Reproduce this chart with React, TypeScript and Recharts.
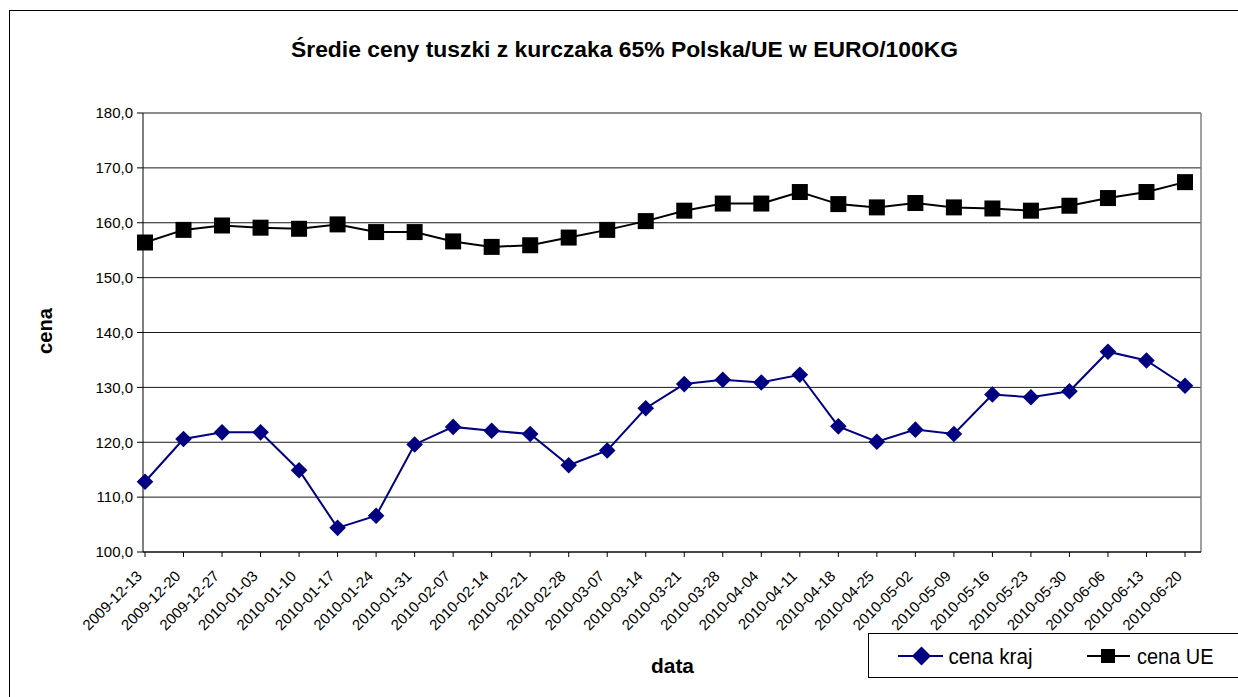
import React from 'react';
import { LineChart, Line, XAxis, YAxis, CartesianGrid } from 'recharts';

const categories = [
  '2009-12-13', '2009-12-20', '2009-12-27', '2010-01-03', '2010-01-10', '2010-01-17', '2010-01-24',
  '2010-01-31', '2010-02-07', '2010-02-14', '2010-02-21', '2010-02-28', '2010-03-07', '2010-03-14',
  '2010-03-21', '2010-03-28', '2010-04-04', '2010-04-11', '2010-04-18', '2010-04-25', '2010-05-02',
  '2010-05-09', '2010-05-16', '2010-05-23', '2010-05-30', '2010-06-06', '2010-06-13', '2010-06-20',
];

const cenaKraj = [
  112.8, 120.6, 121.8, 121.8, 114.9, 104.4, 106.6, 119.6, 122.8, 122.1, 121.5, 115.8, 118.5, 126.2,
  130.6, 131.4, 130.9, 132.3, 122.9, 120.1, 122.3, 121.5, 128.7, 128.2, 129.3, 136.5, 134.9, 130.3,
];

const cenaUE = [
  156.4, 158.7, 159.5, 159.1, 158.9, 159.7, 158.3, 158.3, 156.6, 155.6, 155.9, 157.3, 158.7, 160.3,
  162.2, 163.5, 163.5, 165.6, 163.4, 162.8, 163.6, 162.8, 162.6, 162.2, 163.1, 164.5, 165.6, 167.4,
];

const yTicks = [100, 110, 120, 130, 140, 150, 160, 170, 180];

const seriesNames = { kraj: 'cena kraj', ue: 'cena UE' };
const titleText = 'Średie ceny tuszki z kurczaka 65% Polska/UE w EURO/100KG';
const xTitle = 'data';
const yTitle = 'cena';

const data = categories.map((d, i) => ({ date: d, kraj: cenaKraj[i], ue: cenaUE[i] }));

const NAVY = '#000080';
const FONT = '"Liberation Sans", Arial, sans-serif';

const fmt = (v: number) => v.toFixed(1).replace('.', ',');

const Diamond = (props: any) => {
  const { cx, cy } = props;
  if (cx == null || cy == null) return null;
  const r = 8.3;
  return <path d={`M${cx},${cy - r}L${cx + r},${cy}L${cx},${cy + r}L${cx - r},${cy}Z`} fill={NAVY} stroke="none" />;
};

const Square = (props: any) => {
  const { cx, cy } = props;
  if (cx == null || cy == null) return null;
  const h = 8;
  return <rect x={cx - h} y={cy - h} width={2 * h} height={2 * h} fill="#000" stroke="none" />;
};

const XTick = (props: any) => {
  const { x, y, payload } = props;
  const ax = x - 2;
  const ay = y + 20;
  return (
    <text
      x={ax}
      y={ay}
      transform={`rotate(-45 ${ax} ${ay})`}
      textAnchor="end"
      fontSize={15}
      fontFamily={FONT}
      fill="#000"
    >
      {payload.value}
    </text>
  );
};

export default function App() {
  return (
    <div
      style={{
        position: 'absolute',
        left: 0,
        top: 0,
        width: 1238,
        height: 697,
        overflow: 'hidden',
        background: '#fff',
        fontFamily: FONT,
      }}
    >
      <div
        style={{
          position: 'absolute',
          left: 9,
          top: 10,
          width: 1400,
          height: 900,
          borderLeft: '1px solid #000',
          borderTop: '1px solid #000',
        }}
      />
      <div style={{ position: 'absolute', left: 0, top: 0 }}>
        <LineChart width={1238} height={697} data={data} margin={{ top: 113, right: 37, bottom: 65, left: 83 }}>
          <CartesianGrid vertical={false} stroke="#1a1a1a" strokeWidth={1} />
          <CartesianGrid
            horizontal={false}
            stroke="#808080"
            strokeWidth={1.5}
            verticalCoordinatesGenerator={({ offset }: any) => [offset.left + offset.width]}
          />
          <XAxis
            dataKey="date"
            interval={0}
            tick={<XTick />}
            tickSize={5}
            tickMargin={0}
            height={80}
            padding={{ left: 2, right: 16 }}
            axisLine={{ stroke: '#000', strokeWidth: 1 }}
            tickLine={{ stroke: '#000' }}
          />
          <YAxis
            domain={[100, 180]}
            ticks={yTicks}
            tickFormatter={fmt}
            width={60}
            tickSize={6}
            tickMargin={4}
            axisLine={{ stroke: '#000', strokeWidth: 1 }}
            tickLine={{ stroke: '#000' }}
            tick={{ fontSize: 15, fill: '#000', fontFamily: FONT }}
            interval={0}
          />
          <Line
            type="linear"
            dataKey="kraj"
            name={seriesNames.kraj}
            stroke={NAVY}
            strokeWidth={2}
            dot={<Diamond />}
            activeDot={false}
            isAnimationActive={false}
          />
          <Line
            type="linear"
            dataKey="ue"
            name={seriesNames.ue}
            stroke="#000"
            strokeWidth={2}
            dot={<Square />}
            activeDot={false}
            isAnimationActive={false}
          />
        </LineChart>
      </div>
      <svg
        width={1238}
        height={697}
        style={{ position: 'absolute', left: 0, top: 0, pointerEvents: 'none' }}
        fontFamily={FONT}
      >
        <text x={624.5} y={57} textAnchor="middle" fontWeight="bold" fontSize={22} textLength={667} lengthAdjust="spacingAndGlyphs">
          {titleText}
        </text>
        <text
          x={51.5}
          y={331}
          transform="rotate(-90 51.5 331)"
          textAnchor="middle"
          fontWeight="bold"
          fontSize={21}
          textLength={46}
          lengthAdjust="spacingAndGlyphs"
        >
          {yTitle}
        </text>
        <text x={672.5} y={672.5} textAnchor="middle" fontWeight="bold" fontSize={21} textLength={43} lengthAdjust="spacingAndGlyphs">
          {xTitle}
        </text>
        <rect x={868.5} y={633.5} width={400} height={44} fill="#fff" stroke="#000" strokeWidth={1} />
        <line x1={898} y1={656} x2={943} y2={656} stroke={NAVY} strokeWidth={2} />
        <path d="M921.5,646.5L931,656L921.5,665.5L912,656Z" fill={NAVY} />
        <text x={948.5} y={664} fontSize={22} textLength={84} lengthAdjust="spacingAndGlyphs">
          {seriesNames.kraj}
        </text>
        <line x1={1087} y1={656} x2={1130} y2={656} stroke="#000" strokeWidth={2} />
        <rect x={1101} y={649} width={14} height={14} fill="#000" />
        <text x={1137} y={664} fontSize={22} textLength={76.5} lengthAdjust="spacingAndGlyphs">
          {seriesNames.ue}
        </text>
      </svg>
    </div>
  );
}
